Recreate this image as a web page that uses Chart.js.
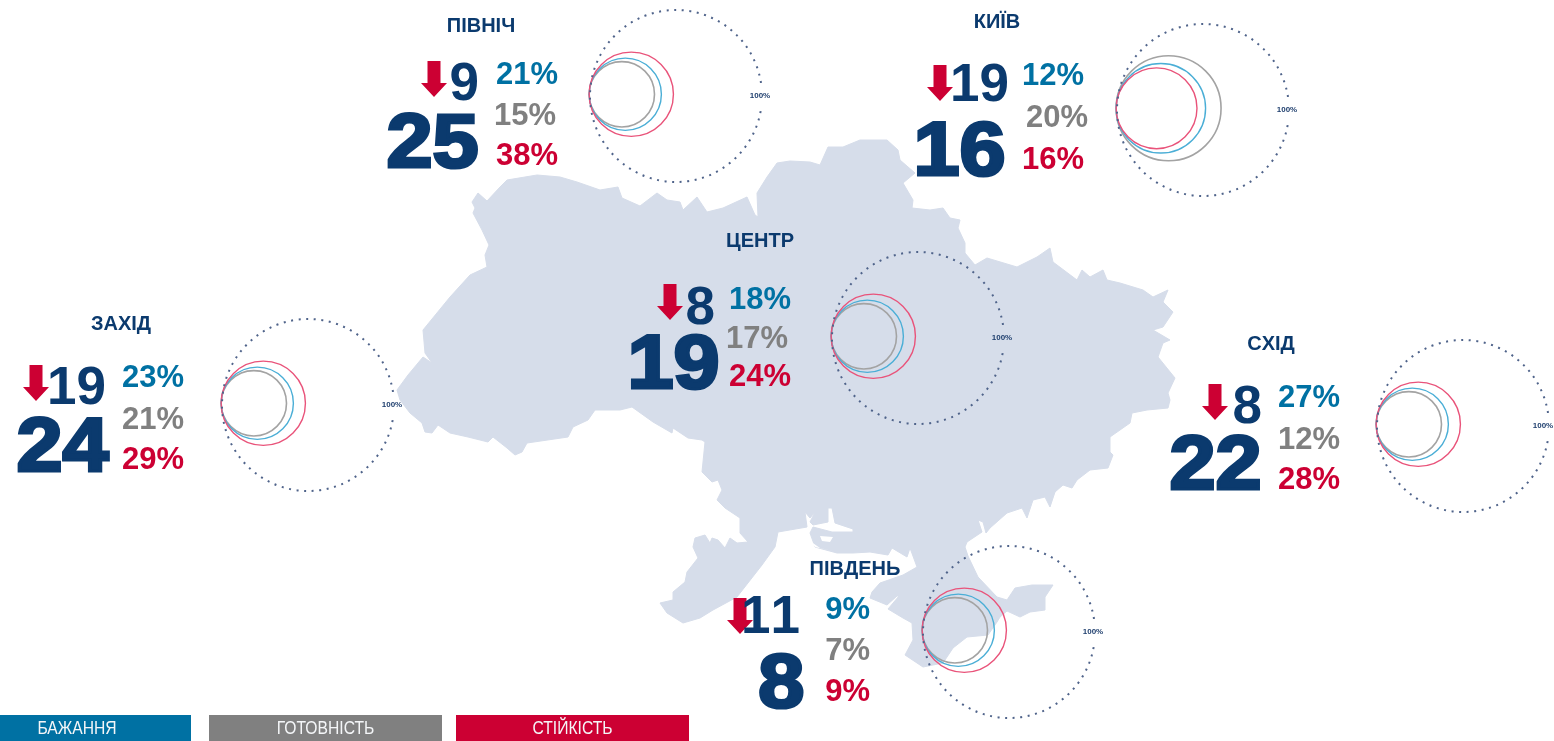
<!DOCTYPE html>
<html lang="uk">
<head>
<meta charset="utf-8">
<title>Регіони</title>
<script src="https://cdn.jsdelivr.net/npm/chart.js@4"></script>
<style>
  html,body{margin:0;padding:0;background:#fff;}
  #page{position:relative;width:1554px;height:741px;overflow:hidden;background:#fff;font-family:"Liberation Sans",Arial,sans-serif;}
  #map{position:absolute;left:0;top:0;}
  .ring{position:absolute;}
  .t{position:absolute;white-space:nowrap;font-weight:700;line-height:.74;font-kerning:none;}
  .bar{position:absolute;top:715px;height:26px;}
  .bar span{position:absolute;left:0;right:0;top:3px;text-align:center;color:#f4f6f8;font-size:18px;line-height:21px;transform:scaleX(.87);}
</style>
</head>
<body>
<div id="page">
<svg id="map" width="1554" height="741" viewBox="0 0 1554 741">
  <path id="land" fill="#d6ddea" stroke="#d6ddea" stroke-width="1" stroke-linejoin="round" d="M472 202 478 193 487 201 500 187 507 180 537 175 560 177 577 182 600 190 618 187 622 198 640 206 657 193 667 200 680 202 683 210 697 197 707 212 723 208 747 197 755 215 758 217 757 193 767 177 777 163 790 161 810 162 820 165 828 147 843 147 860 140 887 140 898 150 900 160 915 173 903 183 913 200 912 208 930 210 943 208 950 218 960 220 958 228 965 243 965 253 975 265 987 258 1017 267 1037 257 1050 248 1053 262 1077 280 1082 270 1090 277 1103 270 1107 280 1120 283 1143 290 1153 297 1168 290 1163 302 1173 312 1163 327 1153 330 1170 340 1163 343 1158 357 1175 378 1168 393 1170 400 1168 408 1147 410 1132 413 1130 423 1110 437 1110 452 1113 455 1108 468 1090 470 1077 480 1072 488 1063 485 1055 492 1050 507 1045 497 1033 500 1027 518 1022 508 1007 513 990 528 986 533 983 522 978 520 982 532 967 542 965 547 968 556 978 577 997 597 1007 600 1015 588 1032 585 1053 585 1045 597 1045 610 1030 612 1020 617 1007 611 1000 617 997 622 988 635 967 637 953 648 943 663 923 667 905 655 913 640 912 623 903 618 888 609 899 596 897 596 887 605 870 598 872 592 880 583 903 575 917 567 910 548 907 557 892 548 888 555 870 552 853 553 837 553 815 547 810 533 813 527 832 532 853 532 853 529 835 523 832 508 828 508 828 522 813 525 810 522 815 512 810 518 805 512 807 527 778 532 775 547 762 565 737 597 713 610 700 618 683 623 667 613 660 603 673 600 673 592 685 582 687 572 698 558 693 547 695 538 705 535 710 543 712 538 718 540 725 548 730 538 737 543 748 542 740 533 740 518 725 508 717 500 722 490 718 480 712 482 702 472 705 442 702 440 688 438 673 428 672 433 653 422 632 407 620 410 608 410 595 410 588 420 573 427 568 437 527 443 522 452 515 455 507 448 493 437 488 442 468 437 450 433 438 425 432 433 425 432 422 423 410 413 400 400 397 390 408 375 423 357 432 363 425 353 423 330 450 297 470 275 487 267 485 255 489 245 482 230 473 213 475 208Z"/>
  <path fill="#fff" d="M820 536 833 537 830 542 822 541ZM810 541 820 548 837 552 815 547Z"/>
</svg>
</div>
<script>
// ---- chart values ----
const regions   = ["ПІВНІЧ", "КИЇВ", "ЦЕНТР", "ЗАХІД", "СХІД", "ПІВДЕНЬ"];
const topValues = [9, 19, 8, 19, 8, 11];
const mainValues= [25, 16, 19, 24, 22, 8];
const wishPct   = [21, 12, 18, 23, 27, 9];
const readyPct  = [15, 20, 17, 21, 12, 7];
const resilPct  = [38, 16, 24, 29, 28, 9];
// circle diameters as a share of the 100% ring
const wishCircle  = [42, 52, 42, 42, 42, 42];
const readyCircle = [38, 61, 38, 38, 38, 38];
const resilCircle = [49, 47, 49, 49, 49, 49];
const fullCircle  = 100;
const ringLabel   = "100%";
const legendLabels= ["БАЖАННЯ", "ГОТОВНІСТЬ", "СТІЙКІСТЬ"];

// ---- layout and style (not data) ----
const NAVY="#0b3a6e", BLUE="#0071a3", GREY="#808080", RED="#cc0033";
const RING_D=172, PAD=10;
const layout=[
 {ring:[590,10], title:[481,32],  arrow:[434,61],  top:[479,100], main:[481,168], pct:[[558,85],[556,126],[558,166]]},
 {ring:[1117,24],title:[997,28],  arrow:[940,65],  top:[1009,101],main:[1008,176],pct:[[1084,86],[1088,128],[1084,170]]},
 {ring:[832,252],title:[760,247], arrow:[670,284], top:[715,324], main:[722,389], pct:[[791,310],[788,349],[791,387]]},
 {ring:[222,319],title:[121,330], arrow:[36,365],  top:[106,404], main:[111,472], pct:[[184,388],[184,430],[184,470]]},
 {ring:[1377,340],title:[1271,350],arrow:[1215,384],top:[1262,423],main:[1264,490],pct:[[1340,408],[1340,450],[1340,490]]},
 {ring:[923,546],title:[855,575], arrow:[740,598], top:[800,633], main:[806,708], pct:[[870,620],[870,661],[870,702]]}
];
const legendBars=[[0,191,BLUE],[209,233,GREY],[456,233,RED]];

const page=document.getElementById("page");
function text(str,x,base,size,color,align,extra){
  const e=document.createElement("div");
  e.className="t"; e.textContent=str;
  e.style.fontSize=size+"px"; e.style.color=color;
  e.style.top=(base-0.7165*size)+"px";
  if(align==="right"){e.style.right=(1554-x)+"px";}
  else {e.style.left=x+"px"; e.style.transform="translateX(-50%)";}
  if(extra) Object.assign(e.style,extra);
  page.appendChild(e); return e;
}
function arrow(cx,top){
  const s=document.createElementNS("http://www.w3.org/2000/svg","polygon");
  const p=[[cx-6.5,top],[cx+6.5,top],[cx+6.5,top+22],[cx+13,top+22],[cx,top+36],[cx-13,top+22],[cx-6.5,top+22]];
  s.setAttribute("points",p.map(a=>a.join(",")).join(" "));
  s.setAttribute("fill",RED);
  arrowsLayer.appendChild(s);
}

const dottedRing={
  id:"dottedRing",
  beforeDatasetDraw(chart,args){
    if(!chart.data.datasets[args.index].dotted) return;
    const c=chart.ctx,a=chart.chartArea,mid=chart.scales.y.getPixelForValue(50);
    c.save();
    c.beginPath();
    c.rect(0,0,chart.width,chart.height);
    c.rect(a.right-22,mid-13,40,26);
    c.clip("evenodd");
    c.setLineDash([2,5.6]);
  },
  afterDatasetDraw(chart,args){
    if(chart.data.datasets[args.index].dotted) chart.ctx.restore();
  }
};

function circleSet(label,share,color,width){
  return {label,data:[{x:share/2-0.5,y:51}],backgroundColor:"rgba(0,0,0,0)",borderColor:color,borderWidth:width,
    clip:false,radius:c=>(c.chart.width-2*PAD)*share/200,hoverRadius:0};
}

regions.forEach((name,i)=>{
  const L=layout[i];
  const box=document.createElement("div");
  box.className="ring";
  box.style.left=(L.ring[0]-PAD)+"px"; box.style.top=(L.ring[1]-PAD)+"px";
  const cv=document.createElement("canvas");
  cv.width=cv.height=RING_D+2*PAD; cv.style.width=cv.style.height=(RING_D+2*PAD)+"px";
  box.appendChild(cv); page.appendChild(box);
  new Chart(cv,{
    type:"bubble",
    data:{datasets:[
      Object.assign(circleSet(ringLabel,fullCircle,"#4f638a",2),{dotted:true,data:[{x:50,y:50}]}),
      circleSet(legendLabels[2],resilCircle[i],"#e9537a",1.4),
      circleSet(legendLabels[0],wishCircle[i],"#4aaed6",1.4),
      circleSet(legendLabels[1],readyCircle[i],"#a3a3a3",1.6)
    ]},
    options:{
      responsive:false,animation:false,events:[],
      layout:{padding:PAD,autoPadding:false},
      plugins:{legend:{display:false},tooltip:{enabled:false}},
      scales:{x:{type:"linear",min:0,max:100,display:false},y:{type:"linear",min:0,max:100,display:false}}
    },
    plugins:[dottedRing]
  });
  text(ringLabel,Math.min(L.ring[0]+RING_D-2,1543),L.ring[1]+RING_D/2+3,8,"#1f3f6e","center",{});
});

const arrowsLayer=document.createElementNS("http://www.w3.org/2000/svg","svg");
arrowsLayer.setAttribute("width","1554");arrowsLayer.setAttribute("height","741");
arrowsLayer.style.position="absolute";arrowsLayer.style.left="0";arrowsLayer.style.top="0";
page.appendChild(arrowsLayer);

regions.forEach((name,i)=>{
  const L=layout[i];
  text(name,L.title[0],L.title[1],20,NAVY,"center");
  arrow(L.arrow[0],L.arrow[1]);
  text(String(topValues[i]),L.top[0],L.top[1],53,NAVY,"right");
  text(String(mainValues[i]),L.main[0]-2,L.main[1]-1,76,NAVY,"right",{webkitTextStroke:"3.2px "+NAVY,transform:"scaleX(1.09)",transformOrigin:"right center"});
  text(wishPct[i]+"%",L.pct[0][0],L.pct[0][1],31,BLUE,"right");
  text(readyPct[i]+"%",L.pct[1][0],L.pct[1][1],31,GREY,"right");
  text(resilPct[i]+"%",L.pct[2][0],L.pct[2][1],31,RED,"right");
});

legendLabels.forEach((lab,i)=>{
  const b=document.createElement("div");
  b.className="bar";
  b.style.left=legendBars[i][0]+"px"; b.style.width=legendBars[i][1]+"px"; b.style.background=legendBars[i][2];
  const s=document.createElement("span"); s.textContent=lab;
  if(i===0){s.style.left="-37px";s.style.right="0";}
  b.appendChild(s); page.appendChild(b);
});
</script>
</body>
</html>
